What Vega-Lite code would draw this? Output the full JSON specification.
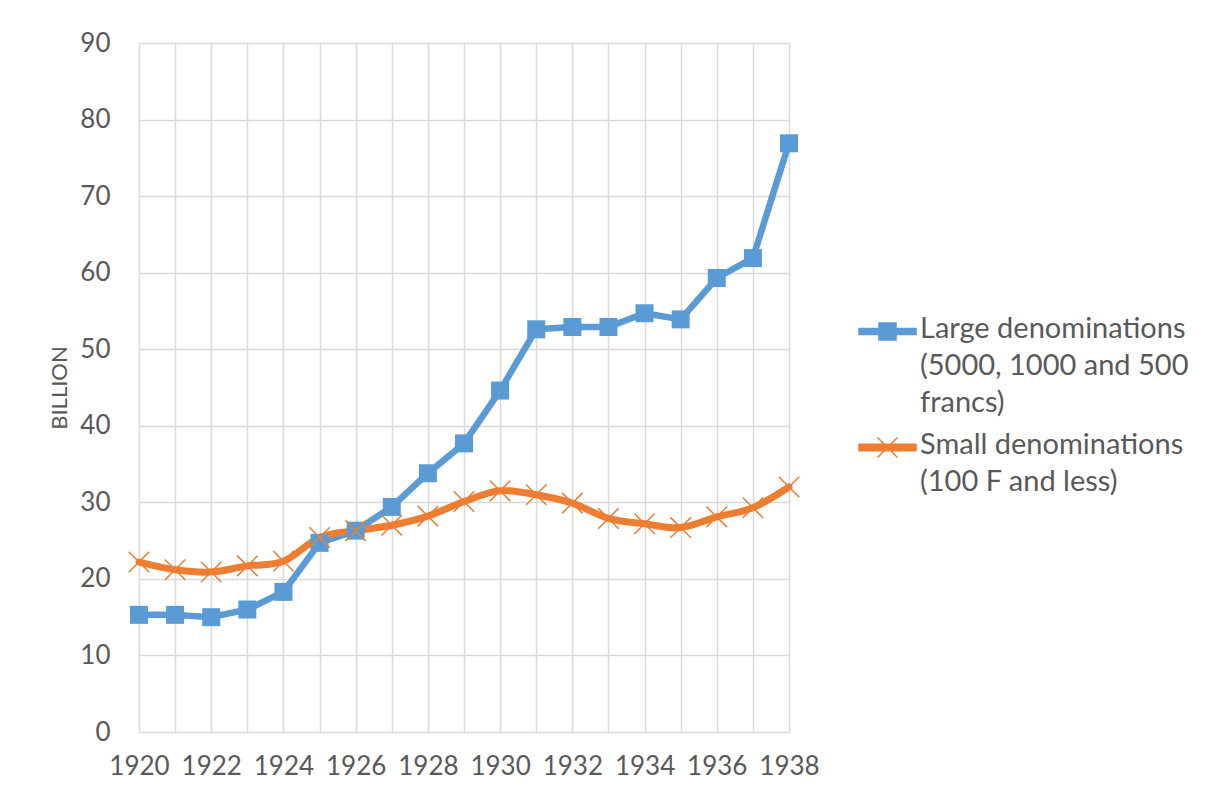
{
  "$schema": "https://vega.github.io/schema/vega-lite/v6.json",
  "autosize": {"type": "none"},
  "padding": {"left": 139, "top": 43, "right": 419, "bottom": 64},
  "width": 650,
  "height": 689,
  "background": "white",
  "config": {
    "font": "Lato",
    "view": {"stroke": null},
    "axis": {"labelFont": "Lato", "labelColor": "#595959", "titleFont": "Lato", "titleColor": "#595959", "gridColor": "#d9d9d9", "gridWidth": 1.5, "domain": false, "ticks": false}
  },
  "data": {"values": [
    {"year": 1920, "series": "Large denominations (5000, 1000 and 500 francs)", "value": 15.3},
    {"year": 1921, "series": "Large denominations (5000, 1000 and 500 francs)", "value": 15.3},
    {"year": 1922, "series": "Large denominations (5000, 1000 and 500 francs)", "value": 15.0},
    {"year": 1923, "series": "Large denominations (5000, 1000 and 500 francs)", "value": 16.0},
    {"year": 1924, "series": "Large denominations (5000, 1000 and 500 francs)", "value": 18.3},
    {"year": 1925, "series": "Large denominations (5000, 1000 and 500 francs)", "value": 24.7},
    {"year": 1926, "series": "Large denominations (5000, 1000 and 500 francs)", "value": 26.3},
    {"year": 1927, "series": "Large denominations (5000, 1000 and 500 francs)", "value": 29.4},
    {"year": 1928, "series": "Large denominations (5000, 1000 and 500 francs)", "value": 33.8},
    {"year": 1929, "series": "Large denominations (5000, 1000 and 500 francs)", "value": 37.7},
    {"year": 1930, "series": "Large denominations (5000, 1000 and 500 francs)", "value": 44.6},
    {"year": 1931, "series": "Large denominations (5000, 1000 and 500 francs)", "value": 52.6},
    {"year": 1932, "series": "Large denominations (5000, 1000 and 500 francs)", "value": 52.9},
    {"year": 1933, "series": "Large denominations (5000, 1000 and 500 francs)", "value": 52.9},
    {"year": 1934, "series": "Large denominations (5000, 1000 and 500 francs)", "value": 54.7},
    {"year": 1935, "series": "Large denominations (5000, 1000 and 500 francs)", "value": 53.9},
    {"year": 1936, "series": "Large denominations (5000, 1000 and 500 francs)", "value": 59.3},
    {"year": 1937, "series": "Large denominations (5000, 1000 and 500 francs)", "value": 61.9},
    {"year": 1938, "series": "Large denominations (5000, 1000 and 500 francs)", "value": 76.9},
    {"year": 1920, "series": "Small denominations (100 F and less)", "value": 22.2},
    {"year": 1921, "series": "Small denominations (100 F and less)", "value": 21.2},
    {"year": 1922, "series": "Small denominations (100 F and less)", "value": 20.9},
    {"year": 1923, "series": "Small denominations (100 F and less)", "value": 21.7},
    {"year": 1924, "series": "Small denominations (100 F and less)", "value": 22.3},
    {"year": 1925, "series": "Small denominations (100 F and less)", "value": 25.4},
    {"year": 1926, "series": "Small denominations (100 F and less)", "value": 26.3},
    {"year": 1927, "series": "Small denominations (100 F and less)", "value": 27.0},
    {"year": 1928, "series": "Small denominations (100 F and less)", "value": 28.2},
    {"year": 1929, "series": "Small denominations (100 F and less)", "value": 30.1},
    {"year": 1930, "series": "Small denominations (100 F and less)", "value": 31.5},
    {"year": 1931, "series": "Small denominations (100 F and less)", "value": 31.0},
    {"year": 1932, "series": "Small denominations (100 F and less)", "value": 29.9},
    {"year": 1933, "series": "Small denominations (100 F and less)", "value": 27.9},
    {"year": 1934, "series": "Small denominations (100 F and less)", "value": 27.2},
    {"year": 1935, "series": "Small denominations (100 F and less)", "value": 26.7},
    {"year": 1936, "series": "Small denominations (100 F and less)", "value": 28.1},
    {"year": 1937, "series": "Small denominations (100 F and less)", "value": 29.3},
    {"year": 1938, "series": "Small denominations (100 F and less)", "value": 32.0}
  ]},
  "encoding": {
    "x": {"field": "year", "type": "quantitative",
      "scale": {"domain": [1920, 1938], "nice": false, "zero": false},
      "axis": {"title": null, "values": [1920,1921,1922,1923,1924,1925,1926,1927,1928,1929,1930,1931,1932,1933,1934,1935,1936,1937,1938],
        "labelExpr": "datum.value % 2 == 0 ? format(datum.value, 'd') : ''", "labelFontSize": 26, "labelPadding": 21, "labelFlush": false, "labelOverlap": false}},
    "y": {"field": "value", "type": "quantitative",
      "scale": {"domain": [0, 90], "nice": false},
      "axis": {"title": "BILLION", "values": [0,10,20,30,40,50,60,70,80,90], "labelFontSize": 26, "labelPadding": 29, "titleFontSize": 22, "titleFontWeight": "normal", "titlePadding": 8}}
  },
  "layer": [
    {
      "transform": [{"filter": "datum.series == 'Large denominations (5000, 1000 and 500 francs)'"}],
      "mark": {"type": "line", "strokeWidth": 6.5, "strokeJoin": "round", "strokeCap": "round"},
      "encoding": {"color": {"field": "series", "type": "nominal",
        "scale": {"domain": ["Large denominations (5000, 1000 and 500 francs)", "Small denominations (100 F and less)"], "range": ["#5B9BD5", "#ED7D31"]},
        "legend": {"title": null, "orient": "none", "legendX": 719, "legendY": 259, "padding": 0,
          "symbolSize": 3249, "labelFontSize": 29, "labelColor": "#595959", "labelFont": "Lato", "labelOffset": 3, "labelBaseline": "top", "rowPadding": -8, "labelLimit": 400,
          "labelExpr": "datum.label == 'Large denominations (5000, 1000 and 500 francs)' ? ['Large denominations', '(5000, 1000 and 500', 'francs)'] : ['Small denominations', '(100 F and less)']",
          "encode": {
            "symbols": {"update": {
              "shape": {"signal": "datum.value == 'Large denominations (5000, 1000 and 500 francs)' ? 'M-1,-0.105H1V0.105H-1Z M-0.3,-0.3H0.3V0.3H-0.3Z' : 'M-1,-0.115H1V0.115H-1Z M-0.35,-0.35L0.35,0.35 M-0.35,0.35L0.35,-0.35'"},
              "fill": {"signal": "scale('color', datum.value)"},
              "stroke": {"signal": "scale('color', datum.value)"},
              "strokeWidth": {"value": 1.5},
              "opacity": {"value": 1}
            }},
            "labels": {"update": {"lineHeight": {"value": 37}, "dy": {"value": -17}}}
          }
        }}}
    },
    {
      "transform": [{"filter": "datum.series == 'Small denominations (100 F and less)'"}],
      "mark": {"type": "line", "strokeWidth": 7, "interpolate": "cardinal", "strokeJoin": "round", "strokeCap": "round"},
      "encoding": {"color": {"field": "series", "type": "nominal"}}
    },
    {
      "transform": [{"filter": "datum.series == 'Large denominations (5000, 1000 and 500 francs)'"}],
      "mark": {"type": "point", "shape": "square", "size": 324, "filled": true, "opacity": 1, "color": "#5B9BD5"}
    },
    {
      "transform": [{"filter": "datum.series == 'Small denominations (100 F and less)'"}],
      "mark": {"type": "point", "shape": "M-1,-1L1,1M-1,1L1,-1", "size": 420, "filled": false, "strokeWidth": 1.5, "opacity": 1, "color": "#ED7D31"}
    }
  ]
}
